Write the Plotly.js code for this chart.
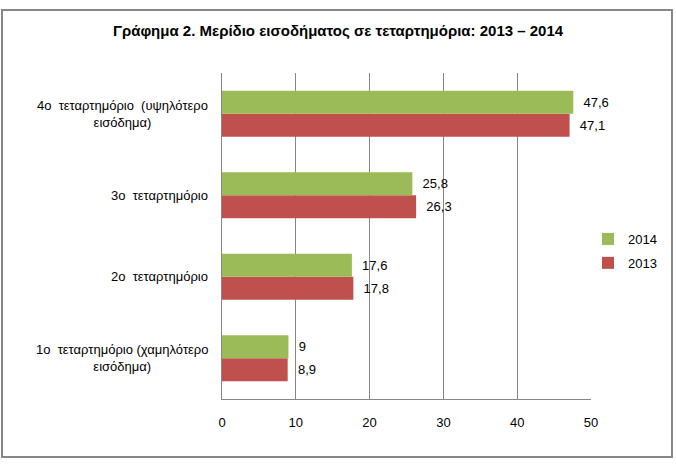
<!DOCTYPE html>
<html>
<head>
<meta charset="utf-8">
<script src="https://cdn.plot.ly/plotly-3.0.1.min.js"></script>
<style>html,body{margin:0;padding:0;background:#fff;}</style>
</head>
<body>
<div id="chart" style="width:676px;height:470px;"></div>
<script>
// Data
var categories = ["1ο τεταρτημόριο", "2ο τεταρτημόριο", "3ο τεταρτημόριο", "4ο τεταρτημόριο"];
var categoryLabels = [
  "1ο\u00a0 τεταρτημόριο (χαμηλότερο<br>εισόδημα)",
  "2ο\u00a0 τεταρτημόριο",
  "3ο\u00a0 τεταρτημόριο",
  "4ο\u00a0 τεταρτημόριο\u00a0 (υψηλότερο<br>εισόδημα)"
];
var values2013 = [8.9, 17.8, 26.3, 47.1];
var values2014 = [9, 17.6, 25.8, 47.6];
var xTicks = [0, 10, 20, 30, 40, 50];

function fmt(v) { return "\u00a0\u00a0" + String(v).replace(".", ","); }

var font = "Liberation Sans, Arial, sans-serif";

var traces = [
  {
    type: "bar", orientation: "h", name: "2013",
    y: categories, x: values2013,
    marker: { color: "#C0504D" },
    text: values2013.map(fmt), textposition: "outside",
    textfont: { family: font, size: 13, color: "#000" },
    cliponaxis: false, legendgroup: "b", legendrank: 2, hoverinfo: "x+name"
  },
  {
    type: "bar", orientation: "h", name: "2014",
    y: categories, x: values2014,
    marker: { color: "#9BBB59" },
    text: values2014.map(fmt), textposition: "outside",
    textfont: { family: font, size: 13, color: "#000" },
    cliponaxis: false, legendgroup: "a", legendrank: 1, hoverinfo: "x+name"
  }
];

var annotations = categories.map(function (c, i) {
  return {
    xref: "paper", yref: "y", x: 0, y: c,
    xanchor: "right", yanchor: "middle", xshift: -12,
    text: categoryLabels[i], align: "center", showarrow: false,
    font: { family: font, size: 13, color: "#000" }
  };
});

var layout = {
  width: 676, height: 470,
  margin: { l: 222, r: 85, t: 73, b: 71, autoexpand: false },
  paper_bgcolor: "#fff", plot_bgcolor: "#fff",
  font: { family: font, size: 13, color: "#000" },
  title: {
    text: "<b>Γράφημα 2. Μερίδιο εισοδήματος σε τεταρτημόρια: 2013 – 2014</b>",
    font: { family: font, size: 15, color: "#000" },
    x: 0.5, xanchor: "center", y: 1 - 31 / 470, yref: "container", yanchor: "middle"
  },
  barmode: "group", bargap: 0.435, bargroupgap: 0,
  xaxis: {
    range: [0, 50], tickvals: xTicks, ticktext: xTicks.map(String),
    showgrid: true, gridcolor: "#868686", gridwidth: 1,
    showline: true, linecolor: "#868686", linewidth: 1,
    zeroline: false, ticks: "", ticklabelstandoff: 11,
    tickfont: { family: font, size: 13, color: "#000" },
    fixedrange: true
  },
  yaxis: {
    type: "category", categoryorder: "array", categoryarray: categories,
    range: [-0.5, 3.5],
    showticklabels: false, showgrid: false,
    showline: true, linecolor: "#868686", linewidth: 1,
    zeroline: false, ticks: "", fixedrange: true
  },
  legend: {
    x: (588 - 222) / 369, xanchor: "left",
    y: (399 - 224) / 326, yanchor: "top",
    traceorder: "grouped", tracegroupgap: 4,
    font: { family: font, size: 13, color: "#000" },
    bgcolor: "rgba(0,0,0,0)", itemwidth: 30
  },
  annotations: annotations,
  shapes: [{
    type: "rect", xref: "paper", yref: "paper",
    x0: (2 - 222) / 369, x1: (672 - 222) / 369,
    y0: (399 - 457) / 326, y1: (399 - 10) / 326,
    line: { color: "#878787", width: 2 }, fillcolor: "rgba(0,0,0,0)", layer: "below"
  }]
};

Plotly.newPlot("chart", traces, layout, { displayModeBar: false, staticPlot: true });
</script>
</body>
</html>
